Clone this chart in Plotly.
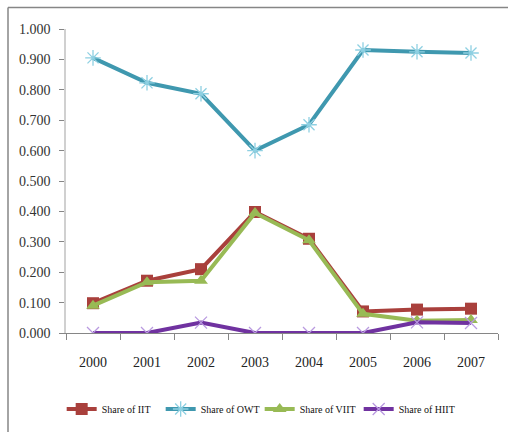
import plotly.graph_objects as go

years = ["2000", "2001", "2002", "2003", "2004", "2005", "2006", "2007"]
share_iit = [0.098, 0.172, 0.210, 0.398, 0.310, 0.071, 0.077, 0.080]
share_owt = [0.905, 0.823, 0.787, 0.600, 0.685, 0.931, 0.925, 0.921]
share_viit = [0.090, 0.167, 0.172, 0.395, 0.305, 0.063, 0.040, 0.043]
share_hiit = [0.000, 0.000, 0.034, 0.000, 0.000, 0.000, 0.035, 0.033]

FONT = "Liberation Serif"
W, H = 508, 432
ML, MR, MT, MB = 66, 10, 29, 99

fig = go.Figure()

fig.add_trace(go.Scatter(
    x=years, y=share_iit, name="Share of IIT", mode="lines+markers",
    line=dict(color="#A9403C", width=4),
    marker=dict(symbol="square", size=12, color="#A9403C"),
))
fig.add_trace(go.Scatter(
    x=years, y=share_owt, name="Share of OWT", mode="lines+markers",
    line=dict(color="#3F98AF", width=4),
    marker=dict(symbol="asterisk-open", size=13, color="#8ED0E2",
                line=dict(color="#8ED0E2", width=1.3)),
))
fig.add_trace(go.Scatter(
    x=years, y=share_viit, name="Share of VIIT", mode="lines+markers",
    line=dict(color="#98BA55", width=4),
    marker=dict(symbol="triangle-up", size=12, color="#98BA55"),
))
fig.add_trace(go.Scatter(
    x=years, y=share_hiit, name="Share of HIIT", mode="lines+markers",
    line=dict(color="#7032A0", width=4),
    marker=dict(symbol="x-thin-open", size=12, color="#B99AE0",
                line=dict(color="#B99AE0", width=1.3)),
))

# outer chart frame (top and left edges)
fx0 = (8 - ML) / (W - ML - MR)
fy0 = 1 + (MT - 7.5) / (H - MT - MB)
fig.add_shape(type="line", xref="paper", yref="paper",
              x0=fx0, x1=(W + 5 - ML) / (W - ML - MR), y0=fy0, y1=fy0,
              line=dict(color="#868686", width=1.5))
fig.add_shape(type="line", xref="paper", yref="paper",
              x0=fx0, x1=fx0, y0=fy0, y1=-(MB + 5) / (H - MT - MB),
              line=dict(color="#868686", width=1.5))

fig.update_layout(
    width=W, height=H,
    margin=dict(l=ML, r=MR, t=MT, b=MB, autoexpand=False),
    paper_bgcolor="white", plot_bgcolor="white",
    font=dict(family=FONT, color="#222222"),
    showlegend=True,
    legend=dict(
        orientation="h", x=-0.01, xanchor="left", y=-0.25, yanchor="middle",
        font=dict(family=FONT, size=10, color="#111111"),
        itemwidth=30, entrywidth=54, tracegroupgap=0,
        bgcolor="rgba(0,0,0,0)",
    ),
    xaxis=dict(
        type="category", showgrid=False, zeroline=False,
        showline=True, linecolor="#868686", linewidth=1,
        ticks="outside", tickson="boundaries", ticklen=6, tickcolor="#868686",
        tickfont=dict(family=FONT, size=14, color="#222222"),
        ticklabelstandoff=16,
        range=[-0.5, 7.5],
    ),
    yaxis=dict(
        range=[0, 1.0], dtick=0.1, tickformat=".3f",
        showgrid=False, zeroline=False,
        showline=True, linecolor="#D0D0D0", linewidth=1.5,
        ticks="outside", ticklen=5, tickcolor="#868686",
        tickfont=dict(family=FONT, size=14, color="#333333"),
        ticklabelstandoff=6,
    ),
)

fig.write_html("out.html")
